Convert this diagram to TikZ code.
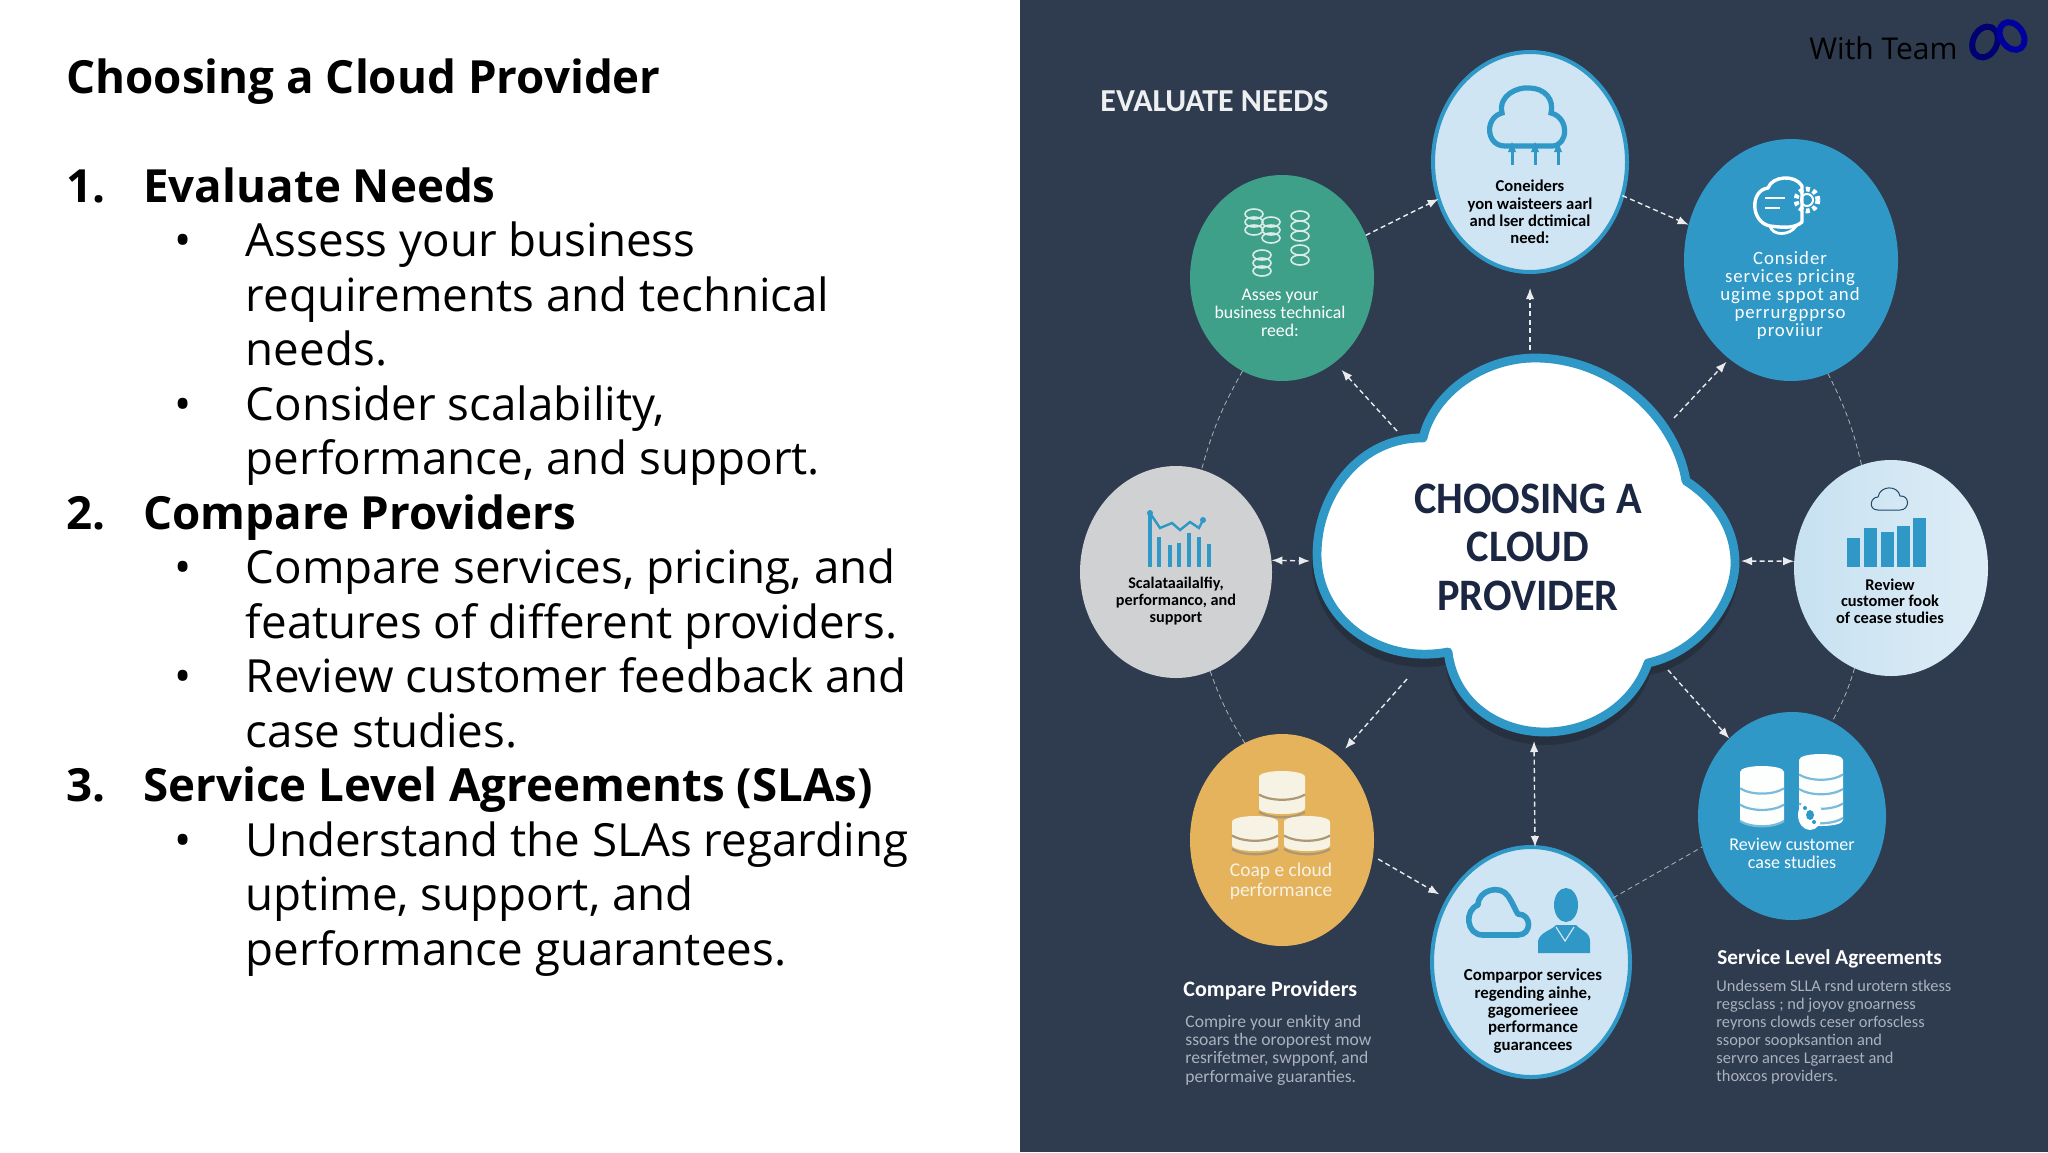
\documentclass[tikz,border=0pt]{standalone}
\usepackage{fontspec}
\usetikzlibrary{shapes.geometric,arrows.meta}
\setmainfont{Open Sans}
\newfontfamily\labf{Carlito}
\newfontfamily\labw[LetterSpace=5]{Carlito}
\definecolor{panel}{HTML}{2F3B4E}
\definecolor{linkb}{HTML}{2F98C6}
\definecolor{paleb}{HTML}{CFE5F3}
\definecolor{greenb}{HTML}{3FA08A}
\definecolor{goldb}{HTML}{E5B35C}
\definecolor{greyb}{HTML}{D0D1D2}
\definecolor{navyt}{HTML}{1B2742}
\definecolor{cream}{HTML}{F6F2E4}
\definecolor{parat}{HTML}{A9B2BE}
\tikzset{
 x=0.5pt,y=-0.5pt,
 blob/.style={ellipse,inner sep=0pt,outer sep=0pt},
 bodyl/.style={anchor=base west,inner sep=0pt,font=\fontsize{22.85}{27}\selectfont,text=black},
 headl/.style={anchor=base west,inner sep=0pt,font=\fontsize{22.85}{27}\selectfont\bfseries,text=black},
 lab/.style={align=center,inner sep=0pt,font=\labf\bfseries\fontsize{8.3}{8.6}\selectfont},
 parl/.style={anchor=base west,inner sep=0pt,text=parat,font=\labf\fontsize{8.2}{9}\selectfont},
 parm/.style={parl,font=\labf\fontsize{8.8}{9}\selectfont},
 subh/.style={anchor=base west,inner sep=0pt,text=white,font=\labf\bfseries\fontsize{10.6}{11}\selectfont},
 link/.style={draw=white!90!panel,line width=0.7pt,dash pattern=on 2.5pt off 1.7pt,-{Latex[length=5.5pt,width=4.2pt]}},
 linkboth/.style={link,{Latex[length=5.5pt,width=4.2pt]}-{Latex[length=5.5pt,width=4.2pt]}},
 orbit/.style={draw=white!60!panel,line width=0.4pt,dash pattern=on 2.5pt off 1.7pt},
}
\newcommand{\dbstack}[6]{% x, y top, w, h, bands, band colour; fill is current colour cream
 \fill[#6] (#1,#2+5) .. controls (#1,#2-3) and (#1+#3,#2-3) .. (#1+#3,#2+5) -- (#1+#3,#2+#4-5)
   .. controls (#1+#3,#2+#4+3) and (#1,#2+#4+3) .. (#1,#2+#4-5) -- cycle;
 \foreach \k in {1,...,#5}{
  \draw[paleline,line width=1.1pt] (#1,#2+5+\k*#4/#5-\k*3) .. controls (#1+#3*.25,#2+12+\k*#4/#5-\k*3) and (#1+#3*.75,#2+12+\k*#4/#5-\k*3) .. (#1+#3,#2+5+\k*#4/#5-\k*3);}
}
\begin{document}
\begin{tikzpicture}
\path[use as bounding box,fill=white] (0,0) rectangle (2048,1152);
\fill[panel] (1020,0) rectangle (2048,1152);

% left text
\node[headl] (title) at (66,93) {Choosing a Cloud Provider};
\node[headl] (n1) at (66,202) {1.};
\node[headl] (h1) at (143,202) {Evaluate Needs};
\node[bodyl] (b1) at (174,256) {•};
\node[bodyl] (t1) at (245.5,256) {Assess your business};
\node[bodyl] (t2) at (245.5,311) {requirements and technical};
\node[bodyl] (t3) at (245.5,365) {needs.};
\node[bodyl] (b2) at (174,420) {•};
\node[bodyl] (t4) at (245.5,420) {Consider scalability,};
\node[bodyl] (t5) at (245.5,474) {performance, and support.};
\node[headl] (n2) at (66,529) {2.};
\node[headl] (h2) at (143,529) {Compare Providers};
\node[bodyl] (b3) at (174,583) {•};
\node[bodyl] (t6) at (245.5,583) {Compare services, pricing, and};
\node[bodyl] (t7) at (245.5,638) {features of different providers.};
\node[bodyl] (b4) at (174,692) {•};
\node[bodyl] (t8) at (245.5,692) {Review customer feedback and};
\node[bodyl] (t9) at (245.5,747) {case studies.};
\node[headl] (n3) at (66,801) {3.};
\node[headl] (h3) at (143,801) {Service Level Agreements (SLAs)};
\node[bodyl] (b5) at (174,856) {•};
\node[bodyl] (t10) at (245.5,856) {Understand the SLAs regarding};
\node[bodyl] (t11) at (245.5,910) {uptime, support, and};
\node[bodyl] (t12) at (245.5,965) {performance guarantees.};

% logo
\node[inner sep=0pt,anchor=base west,font=\fontsize{15}{18}\selectfont,text=black] (team) at (1809,59) {With Team};
\draw[line width=3pt,color=blue!45!black,rotate around={-25:(1985,42)}] (1985,42) ellipse (12 and 16);
\draw[line width=3pt,color=blue!62!black,rotate around={35:(2012,36)}] (2012,36) ellipse (11 and 15);

% heading
\node[anchor=base west,inner sep=0pt,text=white!92!panel,font=\labf\bfseries\fontsize{16}{16}\selectfont] (evalh) at (1100,111) {EVALUATE NEEDS};

% cloud
\fill[black,opacity=.18] (1535,361) .. controls (1610,361) and (1675,418) .. (1689,485)
 .. controls (1725,508) and (1739,538) .. (1739,570) .. controls (1739,608) and (1705,663) .. (1650,675)
 .. controls (1635,718) and (1590,745) .. (1545,745) .. controls (1495,745) and (1450,713) .. (1446,665)
 .. controls (1375,678) and (1312,628) .. (1312,563) .. controls (1312,498) and (1360,440) .. (1420,441)
 .. controls (1430,398) and (1480,361) .. (1535,361) -- cycle;
\draw[draw=linkb,fill=white,line width=4.4pt,line join=round] (1535,358) .. controls (1610,358) and (1675,415) .. (1686,481)
 .. controls (1720,503) and (1735,533) .. (1735,563) .. controls (1735,600) and (1702,651) .. (1648,663)
 .. controls (1633,706) and (1590,732) .. (1545,732) .. controls (1497,732) and (1454,702) .. (1448,652)
 .. controls (1378,665) and (1317,618) .. (1317,555) .. controls (1317,492) and (1362,437) .. (1423,438)
 .. controls (1433,394) and (1482,358) .. (1535,358) -- cycle;
\node[align=center,inner sep=0pt,text=navyt,font=\labf\bfseries\fontsize{22.5}{24.2}\selectfont] (ctext) at (1528,547) {\scalebox{.94}[1]{CHOOSING A}\\\scalebox{.94}[1]{CLOUD}\\\scalebox{.94}[1]{PROVIDER}};
\coordinate (cTop) at (1530,350);
\coordinate (cTL) at (1397,431);
\coordinate (cTR) at (1674,418);
\coordinate (cLeft) at (1310,561);
\coordinate (cRight) at (1741,561);
\coordinate (cBL) at (1407,679);
\coordinate (cBR) at (1668,670);
\coordinate (cBot) at (1534,741);

% satellites
\node[blob,fill=paleb,draw=linkb,line width=2pt,minimum width=97pt,minimum height=110pt] (top) at (1530,162) {};
\node[blob,fill=linkb,minimum width=107pt,minimum height=121pt] (tr) at (1791,260) {};
\node[blob,left color=paleb!95!linkb,right color=paleb!70!white,minimum width=97pt,minimum height=108pt] (right) at (1891,568) {};
\node[blob,fill=linkb,minimum width=94pt,minimum height=104pt] (br) at (1792,816) {};
\node[blob,fill=paleb,draw=linkb,line width=2pt,minimum width=99pt,minimum height=115pt] (bot) at (1531,962) {};
\node[blob,fill=goldb,minimum width=92pt,minimum height=106pt] (bl) at (1282,840) {};
\node[blob,fill=greyb,minimum width=96pt,minimum height=106pt] (left) at (1176,572) {};
\node[blob,fill=greenb,minimum width=92pt,minimum height=103pt] (tl) at (1282,278) {};

% connectors
\draw[link] (tl.27) -- (top.202);
\draw[link] (top.-20) -- (tr.161);
\draw[link,shorten >=8pt] (cTop) -- (top.-90);
\draw[link,shorten >=5pt] (cTL) -- (tl.-58);
\draw[link,shorten >=2pt] (cTR) -- (tr.238);
\draw[linkboth] (left.7) -- (cLeft);
\draw[linkboth] (cRight) -- (right.176);
\draw[link,shorten >=5pt] (cBL) -- (bl.56);
\draw[link] (cBR) -- (br.129);
\draw[linkboth] (cBot) -- (bot.88);
\draw[link,shorten <=3pt,shorten >=5pt] (bl.-10) -- (bot.143);
\draw[orbit] (bot.38) -- (br.199);
\draw[orbit] (tl.247) to[bend right=7] (left.76);
\draw[orbit] (left.-71) to[bend right=6] (bl.111);
\draw[orbit] (tr.-72) to[bend left=7] (right.106);
\draw[orbit] (right.250) to[bend left=6] (br.67);

% satellite labels
\node[lab,text=black] (lTop) at (1530,212) {Coneiders\\yon waisteers aarl\\and lser dctimical\\need:};
\node[lab,text=white,font=\labw\fontsize{9.4}{9}\selectfont] (lTR) at (1790,295) {Consider\\services pricing\\ugime sppot and\\perrurgpprso\\proviiur};
\node[lab,text=white,font=\labf\fontsize{8.9}{8.9}\selectfont] (lTL) at (1280,313) {Asses your\\business technical\\reed:};
\node[lab,text=black,font=\labf\bfseries\fontsize{8.1}{8.6}\selectfont] (lLeft) at (1176,601) {Scalataailalfiy,\\performanco, and\\support};
\node[lab,text=black,font=\labf\bfseries\fontsize{8.2}{8.2}\selectfont] (lRight) at (1890,601) {Review\\customer fook\\of cease studies};
\node[lab,text=white,font=\labf\fontsize{9}{9}\selectfont] (lBR) at (1792,853) {Review customer\\case studies};
\node[lab,text=cream,font=\labf\fontsize{9.75}{10}\selectfont] (lBL) at (1281,881) {Coap e cloud\\performance};
\node[lab,text=black,font=\labf\bfseries\fontsize{8.4}{8.7}\selectfont] (lBot) at (1533,1011) {Comparpor services\\regending ainhe,\\gagomerieee\\performance\\guarancees};

% side texts
\node[subh,font=\labf\bfseries\fontsize{11}{11}\selectfont] (sh1) at (1183,996) {Compare Providers};
\node[parm] (p11) at (1185,1027) {Compire your enkity and};
\node[parm] (p12) at (1185,1045) {ssoars the oroporest mow};
\node[parm] (p13) at (1185,1063) {resrifetmer, swpponf, and};
\node[parm] (p14) at (1185,1082) {performaive guaranties.};
\node[subh] (sh2) at (1717,964) {Service Level Agreements};
\node[parl] (p21) at (1716,991) {Undessem SLLA rsnd urotern stkess};
\node[parl] (p22) at (1716,1009) {regsclass ; nd joyov gnoarness};
\node[parl] (p23) at (1716,1027) {reyrons clowds ceser orfoscless};
\node[parl] (p24) at (1716,1045) {ssopor soopksantion and};
\node[parl] (p25) at (1716,1063) {servro ances Lgarraest and};
\node[parl] (p26) at (1716,1081) {thoxcos providers.};

% icon: top cloud
\draw[linkb,line width=2.6pt,line cap=round] (1505,146) .. controls (1486,146) and (1484,118) .. (1502,113) .. controls (1498,95) and (1518,87) .. (1528,88) .. controls (1546,88) and (1554,100) .. (1551,113) .. controls (1570,118) and (1568,146) .. (1552,146) -- cycle;
\foreach \xx in {1512,1535,1558}{
 \draw[linkb,line width=1.5pt] (\xx,147) -- (\xx,165);
 \fill[linkb] (\xx-4,152) -- (\xx,142) -- (\xx+4,152) -- cycle;}

% icon: top right cloud + gear
\draw[white,line width=1.7pt,line join=round] (1770,226) .. controls (1750,222) and (1750,190) .. (1768,188) .. controls (1772,176) and (1795,174) .. (1802,186) -- (1802,222) .. controls (1795,228) and (1785,228) .. (1770,226) -- cycle;
\draw[white,line width=1.4pt] (1770,226) .. controls (1772,236) and (1790,236) .. (1796,226);
\draw[white,line width=1.2pt] (1765,198) -- (1785,198) (1765,208) -- (1780,208);
\draw[white,line width=2.4pt,dash pattern=on 2pt off 1.6pt] (1807,200) circle (11);
\draw[white,line width=1pt] (1807,200) circle (6);

% icon: top left coin stacks
\begin{scope}[draw=white!80!greenb,line width=.8pt]
 \foreach \xx/\yy in {1254/214,1254/222,1254/230,1271/222,1271/230,1271/238,1300/216,1300/226,1300/236,1262/255,1262/263,1262/271,1300/250,1300/260}{
  \draw (\xx,\yy) ellipse (9 and 5);}
\end{scope}

% icon: left chart
\foreach \xx/\yy in {1150/513,1159/537,1170/545,1179/543,1189/533,1199/537,1209/544}{
 \fill[linkb] (\xx-2,\yy) rectangle (\xx+2,567);}
\draw[linkb,line width=1.2pt] (1150,513) -- (1160,528) -- (1172,523) -- (1180,530) -- (1190,522) -- (1199,528) -- (1203,520);
\fill[linkb] (1150,513) circle (3) (1203,520) circle (3);

% icon: right chart
\draw[navyt!70!linkb,line width=.5pt] (1878,510) .. controls (1868,510) and (1870,497) .. (1878,497) .. controls (1880,485) and (1898,485) .. (1900,496) .. controls (1910,495) and (1910,510) .. (1900,510) -- cycle;
\foreach \xx/\yy in {1847/538,1864/528,1881/532,1897/526,1913/518}{
 \fill[linkb] (\xx,\yy) rectangle (\xx+13,567);}

% icons: data stacks
\colorlet{paleline}{linkb!65!white}
\dbstack{1740}{767}{44}{58}{3}{white!96!paleb}
\dbstack{1799}{755}{44}{70}{4}{white!96!paleb}
\fill[white] (1810,815) ellipse (12 and 15);
\fill[linkb] (1810,815) ellipse (4 and 5) (1805,808) circle (2) (1814,822) circle (2);
\colorlet{paleline}{goldb!60!black!70!white}
\dbstack{1259}{772}{46}{41}{2}{cream}
\dbstack{1232}{817}{46}{33}{2}{cream}
\dbstack{1284}{817}{46}{33}{2}{cream}

% icon: bottom cloud and person
\draw[linkb,line width=2.8pt,line join=round] (1483,935) .. controls (1466,935) and (1464,910) .. (1478,905) .. controls (1478,890) and (1500,884) .. (1508,896) .. controls (1514,905) and (1516,912) .. (1518,914) .. controls (1532,914) and (1532,935) .. (1518,935) -- cycle;
\fill[linkb] (1566,905) ellipse (12 and 17);
\fill[linkb] (1538,953) -- (1538,941) .. controls (1540,932) and (1552,930) .. (1556,925) -- (1576,925) .. controls (1580,930) and (1590,932) .. (1590,941) -- (1590,953) -- cycle;
\draw[paleb,line width=.6pt] (1556,927) -- (1565,941) -- (1574,927);
\end{tikzpicture}
\end{document}
